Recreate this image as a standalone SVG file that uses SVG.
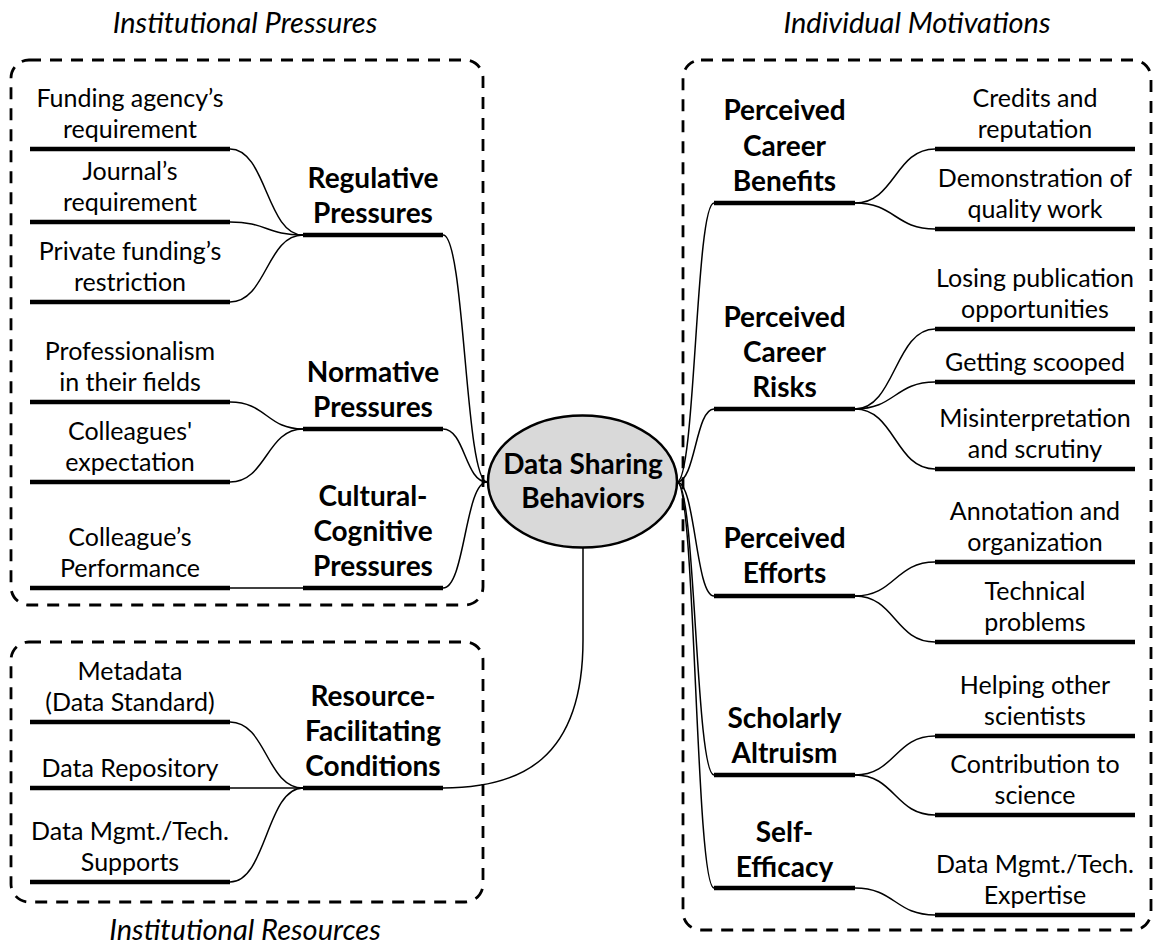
<svg xmlns="http://www.w3.org/2000/svg" width="1155" height="947" viewBox="0 0 1155 947">
  <style>
    .box { fill: none; stroke: #000; stroke-width: 2.8; stroke-dasharray: 12 9; }
    .bar { stroke: #000; stroke-width: 4.5; fill: none; }
    .conn { stroke: #000; stroke-width: 1.5; fill: none; }
    text { font-family: Lato, "Liberation Sans", sans-serif; fill: #000; text-anchor: middle; }
    .leaf { font-size: 25px; }
    .grp { font-size: 28px; font-weight: bold; }
    .title { font-size: 29px; font-style: italic; }
    .core { fill: #d9d9d9; stroke: #000; stroke-width: 2.5; }
  </style>

  <!-- section titles -->
  <g id="titles">
    <text class="title" x="245" y="33">Institutional Pressures</text>
    <text class="title" x="917" y="33">Individual Motivations</text>
    <text class="title" x="245" y="940">Institutional Resources</text>
  </g>

  <!-- dashed frames -->
  <g id="frames">
    <rect class="box" x="11" y="60" width="472" height="545" rx="18" ry="18"/>
    <rect class="box" x="11" y="642" width="472" height="260" rx="18" ry="18"/>
    <rect class="box" x="683" y="60" width="468" height="870" rx="18" ry="18"/>
  </g>

  <!-- connectors -->
  <g id="connectors">
    <!-- regulative leaves -->
    <path class="conn" d="M230,149 C266.5,149 266.5,235 303,235"/>
    <path class="conn" d="M230,222 C266.5,222 266.5,235 303,235"/>
    <path class="conn" d="M230,302 C266.5,302 266.5,235 303,235"/>
    <!-- normative leaves -->
    <path class="conn" d="M230,402 C266.5,402 266.5,429 303,429"/>
    <path class="conn" d="M230,482 C266.5,482 266.5,429 303,429"/>
    <!-- cultural-cognitive leaf -->
    <path class="conn" d="M230,588 L303,588"/>
    <!-- resource leaves -->
    <path class="conn" d="M230,722 C266.5,722 266.5,788 303,788"/>
    <path class="conn" d="M230,788 L303,788"/>
    <path class="conn" d="M230,882 C266.5,882 266.5,788 303,788"/>
    <!-- pressure groups to core -->
    <path class="conn" d="M443,235 C465,235 465,482 487,482"/>
    <path class="conn" d="M443,429 C465,429 465,482 487,482"/>
    <path class="conn" d="M443,588 C465,588 465,482 487,482"/>
    <!-- resources to core -->
    <path class="conn" d="M443,788 C520,788 583,760 583,640 L583,547"/>
    <!-- core to motivation groups -->
    <path class="conn" d="M677,482 C695.5,482 695.5,203 714,203"/>
    <path class="conn" d="M677,482 C695.5,482 695.5,409 714,409"/>
    <path class="conn" d="M677,482 C695.5,482 695.5,596 714,596"/>
    <path class="conn" d="M677,482 C695.5,482 695.5,775 714,775"/>
    <path class="conn" d="M677,482 C695.5,482 695.5,888 714,888"/>
    <!-- motivation groups to leaves -->
    <path class="conn" d="M855,203 C895,203 895,149 935,149"/>
    <path class="conn" d="M855,203 C895,203 895,229 935,229"/>
    <path class="conn" d="M855,409 C895,409 895,329 935,329"/>
    <path class="conn" d="M855,409 C895,409 895,382 935,382"/>
    <path class="conn" d="M855,409 C895,409 895,469 935,469"/>
    <path class="conn" d="M855,596 C895,596 895,562 935,562"/>
    <path class="conn" d="M855,596 C895,596 895,642 935,642"/>
    <path class="conn" d="M855,775 C895,775 895,736 935,736"/>
    <path class="conn" d="M855,775 C895,775 895,815 935,815"/>
    <path class="conn" d="M855,888 C895,888 895,915 935,915"/>
  </g>

  <!-- central node -->
  <g id="core">
    <ellipse class="core" cx="582.5" cy="481.5" rx="94.5" ry="66"/>
    <text class="grp" x="583" y="474">Data Sharing</text>
    <text class="grp" x="583" y="508">Behaviors</text>
  </g>

  <!-- institutional pressures -->
  <g id="regulative">
    <line class="bar" x1="303" y1="235" x2="443" y2="235"/>
    <text class="grp" x="373" y="188">Regulative</text>
    <text class="grp" x="373" y="223">Pressures</text>
  </g>
  <g id="funding-agency">
    <line class="bar" x1="30" y1="149" x2="230" y2="149"/>
    <text class="leaf" x="130" y="107">Funding agency’s</text>
    <text class="leaf" x="130" y="138">requirement</text>
  </g>
  <g id="journal">
    <line class="bar" x1="30" y1="222" x2="230" y2="222"/>
    <text class="leaf" x="130" y="180">Journal’s</text>
    <text class="leaf" x="130" y="211">requirement</text>
  </g>
  <g id="private-funding">
    <line class="bar" x1="30" y1="302" x2="230" y2="302"/>
    <text class="leaf" x="130" y="260">Private funding’s</text>
    <text class="leaf" x="130" y="291">restriction</text>
  </g>

  <g id="normative">
    <line class="bar" x1="303" y1="429" x2="443" y2="429"/>
    <text class="grp" x="373" y="382">Normative</text>
    <text class="grp" x="373" y="417">Pressures</text>
  </g>
  <g id="professionalism">
    <line class="bar" x1="30" y1="402" x2="230" y2="402"/>
    <text class="leaf" x="130" y="360">Professionalism</text>
    <text class="leaf" x="130" y="391">in their fields</text>
  </g>
  <g id="colleagues-expectation">
    <line class="bar" x1="30" y1="482" x2="230" y2="482"/>
    <text class="leaf" x="130" y="440">Colleagues'</text>
    <text class="leaf" x="130" y="471">expectation</text>
  </g>

  <g id="cultural-cognitive">
    <line class="bar" x1="303" y1="588" x2="443" y2="588"/>
    <text class="grp" x="373" y="506">Cultural-</text>
    <text class="grp" x="373" y="541">Cognitive</text>
    <text class="grp" x="373" y="576">Pressures</text>
  </g>
  <g id="colleague-performance">
    <line class="bar" x1="30" y1="588" x2="230" y2="588"/>
    <text class="leaf" x="130" y="546">Colleague’s</text>
    <text class="leaf" x="130" y="577">Performance</text>
  </g>

  <!-- institutional resources -->
  <g id="resource-facilitating">
    <line class="bar" x1="303" y1="788" x2="443" y2="788"/>
    <text class="grp" x="373" y="706">Resource-</text>
    <text class="grp" x="373" y="741">Facilitating</text>
    <text class="grp" x="373" y="776">Conditions</text>
  </g>
  <g id="metadata">
    <line class="bar" x1="30" y1="722" x2="230" y2="722"/>
    <text class="leaf" x="130" y="680">Metadata</text>
    <text class="leaf" x="130" y="711">(Data Standard)</text>
  </g>
  <g id="repository">
    <line class="bar" x1="30" y1="788" x2="230" y2="788"/>
    <text class="leaf" x="130" y="777">Data Repository</text>
  </g>
  <g id="tech-supports">
    <line class="bar" x1="30" y1="882" x2="230" y2="882"/>
    <text class="leaf" x="130" y="840">Data Mgmt./Tech.</text>
    <text class="leaf" x="130" y="871">Supports</text>
  </g>

  <!-- individual motivations -->
  <g id="career-benefits">
    <line class="bar" x1="714" y1="203" x2="855" y2="203"/>
    <text class="grp" x="784.5" y="120">Perceived</text>
    <text class="grp" x="784.5" y="156">Career</text>
    <text class="grp" x="784.5" y="191">Benefits</text>
  </g>
  <g id="credits">
    <line class="bar" x1="935" y1="149" x2="1135" y2="149"/>
    <text class="leaf" x="1035" y="107">Credits and</text>
    <text class="leaf" x="1035" y="138">reputation</text>
  </g>
  <g id="quality-work">
    <line class="bar" x1="935" y1="229" x2="1135" y2="229"/>
    <text class="leaf" x="1035" y="187">Demonstration of</text>
    <text class="leaf" x="1035" y="218">quality work</text>
  </g>

  <g id="career-risks">
    <line class="bar" x1="714" y1="409" x2="855" y2="409"/>
    <text class="grp" x="784.5" y="327">Perceived</text>
    <text class="grp" x="784.5" y="362">Career</text>
    <text class="grp" x="784.5" y="397">Risks</text>
  </g>
  <g id="losing-publication">
    <line class="bar" x1="935" y1="329" x2="1135" y2="329"/>
    <text class="leaf" x="1035" y="287">Losing publication</text>
    <text class="leaf" x="1035" y="318">opportunities</text>
  </g>
  <g id="scooped">
    <line class="bar" x1="935" y1="382" x2="1135" y2="382"/>
    <text class="leaf" x="1035" y="371">Getting scooped</text>
  </g>
  <g id="misinterpretation">
    <line class="bar" x1="935" y1="469" x2="1135" y2="469"/>
    <text class="leaf" x="1035" y="427">Misinterpretation</text>
    <text class="leaf" x="1035" y="458">and scrutiny</text>
  </g>

  <g id="efforts">
    <line class="bar" x1="714" y1="596" x2="855" y2="596"/>
    <text class="grp" x="784.5" y="548">Perceived</text>
    <text class="grp" x="784.5" y="583">Efforts</text>
  </g>
  <g id="annotation">
    <line class="bar" x1="935" y1="562" x2="1135" y2="562"/>
    <text class="leaf" x="1035" y="520">Annotation and</text>
    <text class="leaf" x="1035" y="551">organization</text>
  </g>
  <g id="technical">
    <line class="bar" x1="935" y1="642" x2="1135" y2="642"/>
    <text class="leaf" x="1035" y="600">Technical</text>
    <text class="leaf" x="1035" y="631">problems</text>
  </g>

  <g id="altruism">
    <line class="bar" x1="714" y1="775" x2="855" y2="775"/>
    <text class="grp" x="784.5" y="728">Scholarly</text>
    <text class="grp" x="784.5" y="763">Altruism</text>
  </g>
  <g id="helping">
    <line class="bar" x1="935" y1="736" x2="1135" y2="736"/>
    <text class="leaf" x="1035" y="694">Helping other</text>
    <text class="leaf" x="1035" y="725">scientists</text>
  </g>
  <g id="contribution">
    <line class="bar" x1="935" y1="815" x2="1135" y2="815"/>
    <text class="leaf" x="1035" y="773">Contribution to</text>
    <text class="leaf" x="1035" y="804">science</text>
  </g>

  <g id="self-efficacy">
    <line class="bar" x1="714" y1="888" x2="855" y2="888"/>
    <text class="grp" x="784.5" y="842">Self-</text>
    <text class="grp" x="784.5" y="877">Efficacy</text>
  </g>
  <g id="expertise">
    <line class="bar" x1="935" y1="915" x2="1135" y2="915"/>
    <text class="leaf" x="1035" y="873">Data Mgmt./Tech.</text>
    <text class="leaf" x="1035" y="904">Expertise</text>
  </g>
</svg>
